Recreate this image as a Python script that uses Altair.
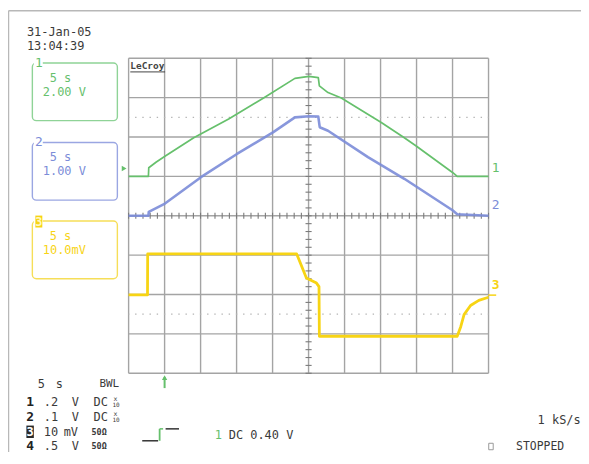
import altair as alt
import pandas as pd
import numpy as np

# ---------------- data (x in divisions of 5 s, y in divisions from bottom of the grid)
ch1_t = [0.0, 0.55, 0.56, 0.76, 1.01, 1.81, 2.78, 3.75, 4.62, 5.01, 5.27, 5.30, 5.54, 5.91, 7.02, 7.66, 7.98, 9.00, 9.13, 10.0]
ch1_v = [5.0, 5.0, 5.22, 5.36, 5.51, 5.98, 6.46, 6.99, 7.49, 7.54, 7.51, 7.30, 7.13, 6.99, 6.37, 5.98, 5.78, 5.10, 5.0, 5.0]
ch2_t = [0.0, 0.55, 0.56, 1.01, 2.01, 3.01, 4.01, 4.62, 5.01, 5.27, 5.31, 5.54, 6.65, 7.66, 9.00, 9.13, 10.0]
ch2_v = [4.0, 4.0, 4.10, 4.31, 4.98, 5.57, 6.12, 6.50, 6.53, 6.52, 6.25, 6.16, 5.49, 4.94, 4.14, 4.04, 4.0]
ch3_t = [0.0, 0.525, 0.53, 4.67, 4.94, 5.22, 5.29, 5.30, 9.13, 9.23, 9.32, 9.50, 9.73, 10.0]
ch3_v = [1.99, 1.99, 3.03, 3.03, 2.42, 2.29, 2.20, 0.94, 0.94, 1.19, 1.49, 1.72, 1.85, 1.93]

grid_x = list(range(0, 11))
grid_y = list(range(0, 9))
dotted_y = [6.5, 1.5]
trig_level = 5.2
trig_pos = 1.0

GREEN = "#66c06c"
BLUE = "#7b8cd8"
YELLOW = "#f7d414"
GRID = "#a4a4a4"
TXT = "#3a3a3a"

# ---------------- layout
W, H = 362, 316.8
OX, OY = 129.3, 57.3          # page position of plot origin
PADL, PADT = OX - 8, OY - 8
FONT = "DejaVu Sans Mono"

xs = alt.Scale(domain=[0, 10], nice=False, zero=False)
ys = alt.Scale(domain=[0, 8], nice=False, zero=False)


def X(v):
    return alt.value(v - OX)


def Y(v):
    return alt.value(v - OY)


one = alt.Data(values=[{}])


def label(s, x, y, color=TXT, size=12, weight="normal", align="left", font=FONT):
    return alt.Chart(one).mark_text(
        text=s, align=align, baseline="middle", font=font, fontSize=size,
        fontWeight=weight, color=color
    ).encode(x=X(x), y=Y(y))


def box(x1, y1, x2, y2, stroke=None, fill=None, sw=1.2, r=0):
    kw = dict(strokeWidth=sw, cornerRadius=r)
    if stroke:
        kw["stroke"] = stroke
    if fill:
        kw["fill"] = fill
    else:
        kw["fillOpacity"] = 0
    return alt.Chart(one).mark_rect(**kw).encode(x=X(x1), x2=X(x2), y=Y(y1), y2=Y(y2))


def seg(x1, y1, x2, y2, color, sw=1.2):
    return alt.Chart(one).mark_rule(color=color, strokeWidth=sw).encode(
        x=X(x1), x2=X(x2), y=Y(y1), y2=Y(y2))


layers = []

# outer frame
layers.append(seg(8.5, 9.5, 600, 9.5, "#b8b8b8", 1.5))
layers.append(seg(8.5, 9.5, 8.5, 470, "#b8b8b8", 1.5))

# grid
gx = pd.DataFrame({"d": grid_x})
gy = pd.DataFrame({"v": grid_y})
layers.append(alt.Chart(gx).mark_rule(color=GRID, strokeWidth=1.4).encode(
    x=alt.X("d:Q", scale=xs, axis=None), y=alt.value(0), y2=alt.value(H)))
layers.append(alt.Chart(gy).mark_rule(color=GRID, strokeWidth=1.4).encode(
    y=alt.Y("v:Q", scale=ys, axis=None), x=alt.value(0), x2=alt.value(W)))
layers.append(alt.Chart(pd.DataFrame({"v": dotted_y})).mark_rule(
    color="#b4b4b4", strokeWidth=1.3, strokeDash=[1.4, 5.84], strokeDashOffset=0.7).encode(
    y=alt.Y("v:Q", scale=ys, axis=None), x=alt.value(0), x2=alt.value(W)))

# minor ticks on centre lines
hx = np.round(np.arange(0, 10.001, 0.2), 2)
layers.append(alt.Chart(pd.DataFrame({"d": hx, "a": 4 - 0.075, "b": 4 + 0.075})).mark_rule(
    color="#7a7a7a", strokeWidth=1.1).encode(
    x=alt.X("d:Q", scale=xs, axis=None), y=alt.Y("a:Q", scale=ys, axis=None), y2="b:Q"))
vy = np.round(np.arange(0, 8.001, 0.2), 2)
layers.append(alt.Chart(pd.DataFrame({"v": vy, "a": 5 - 0.085, "b": 5 + 0.085})).mark_rule(
    color="#7a7a7a", strokeWidth=1.1).encode(
    y=alt.Y("v:Q", scale=ys, axis=None), x=alt.X("a:Q", scale=xs, axis=None), x2="b:Q"))


def trace(t, v, color, sw, op=1.0):
    df = pd.DataFrame({"t": t, "v": v, "i": range(len(t))})
    return alt.Chart(df).mark_line(color=color, strokeWidth=sw, strokeJoin="round",
                                   opacity=op).encode(
        x=alt.X("t:Q", scale=xs, axis=None), y=alt.Y("v:Q", scale=ys, axis=None),
        order="i:Q")


layers.append(trace(ch3_t, ch3_v, YELLOW, 2.8))
layers.append(trace(ch2_t, ch2_v, BLUE, 2.6, 0.9))
layers.append(trace(ch1_t, ch1_v, GREEN, 1.7))

# trigger level marker (left) and trigger position arrow (bottom)
layers.append(alt.Chart(pd.DataFrame({"v": [trig_level]})).mark_point(
    shape="triangle-right", filled=True, color=GREEN, size=30, opacity=1).encode(
    x=alt.value(-4.5), y=alt.Y("v:Q", scale=ys, axis=None)))
layers.append(alt.Chart(pd.DataFrame({"d": [trig_pos]})).mark_rule(
    color=GREEN, strokeWidth=2).encode(
    x=alt.X("d:Q", scale=xs, axis=None), y=Y(378), y2=Y(389)))
layers.append(alt.Chart(pd.DataFrame({"d": [trig_pos]})).mark_point(
    shape="triangle-up", filled=True, color=GREEN, size=28, opacity=1).encode(
    x=alt.X("d:Q", scale=xs, axis=None), y=Y(378.5)))

# channel labels at right of grid
layers.append(label("1", 494.5, 168, GREEN, 13))
layers.append(label("2", 494.5, 205, BLUE, 13))
layers.append(label("3", 494.5, 285, YELLOW, 13, "bold"))
layers.append(seg(491, 295.5, 499, 295.5, YELLOW, 1.5))

# LeCroy logo
layers.append(label("LeCroy", 131, 65.5, "#444444", 9.5, "bold"))
layers.append(seg(131, 71, 166, 71, "#444444", 1))

# date / time
layers.append(label("31-Jan-05", 27, 31, TXT, 12))
layers.append(label("13:04:39", 27, 45, TXT, 12))

# channel boxes
specs = [(62, GREEN, "#8fd397", "1", "5 s", "2.00 V"),
         (142, BLUE, "#9aa6e2", "2", "5 s", "1.00 V"),
         (221, YELLOW, "#f6de58", "3", "5 s", "10.0mV")]
for top, col, bcol, num, l1, l2 in specs:
    layers.append(box(32.5, top, 118, top + 58, stroke=bcol, sw=1.4, r=4))
    layers.append(box(34, top - 6, 43, top + 6, fill="white", sw=0))
    if num == "3":
        layers.append(box(35.5, top - 5.5, 42.5, top + 6.5, fill=YELLOW, sw=0))
        layers.append(label(num, 39, top + 0.5, "#fff7c0", 12, "bold", align="center"))
    else:
        layers.append(label(num, 39, top, col, 13, align="center"))
    layers.append(label(l1, 50, top + 15, col, 12))
    layers.append(label(l2, 43, top + 29, col, 12))

# bottom status block
layers.append(label("5", 38, 385, TXT, 12))
layers.append(label("s", 56, 385, TXT, 12))
layers.append(label("BWL", 100, 385, TXT, 11))
rows = [("1", ".2", "V", "DC", True), ("2", ".1", "V", "DC", True),
        ("3", "10", "mV", "50Ω", False), ("4", ".5", "V", "50Ω", False)]
for k, (n, a, u, c, x10) in enumerate(rows):
    yy = 403.5 + k * 14.6
    if n == "3":
        layers.append(box(26.5, yy - 6, 34, yy + 6.5, fill="#2a2a2a", sw=0))
        layers.append(label(n, 30.3, yy + 0.3, "white", 12, "bold", align="center"))
    else:
        layers.append(label(n, 30.3, yy, "#222222", 13, "bold", align="center"))
    layers.append(label(a, 44, yy, TXT, 12))
    layers.append(label(u, 72 if u == "V" else 64, yy, TXT, 12))
    if c == "DC":
        layers.append(label(c, 94, yy, TXT, 12))
        layers.append(label("x", 114, yy - 3.5, TXT, 6.5))
        layers.append(label("10", 113, yy + 3, TXT, 6))
    else:
        layers.append(label(c, 92, yy, TXT, 8.5, "bold"))

# trigger symbol
layers.append(seg(143, 442, 159, 442, "#333333", 1.5))
layers.append(seg(160.5, 430, 160.5, 442, GREEN, 1.8))
layers.append(seg(160.5, 430, 164, 430, GREEN, 1.5))
layers.append(seg(166.5, 430, 180, 430, "#333333", 1.5))
layers.append(label("1", 216, 436.5, GREEN, 12))
layers.append(label("DC 0.40 V", 230, 436.5, TXT, 12))

# right bottom
layers.append(label("1 kS/s", 584, 421.5, TXT, 12, align="right"))
layers.append(box(491.5, 444.5, 496, 451, stroke="#999999", sw=1))
layers.append(label("STOPPED", 519, 448.5, TXT, 11.5))

chart = alt.layer(*layers).properties(
    width=W, height=H,
    padding={"left": PADL, "top": PADT, "right": 93, "bottom": 444 - PADT - H},
    autosize=alt.AutoSizeParams(type="none"),
    background="white",
).configure_view(strokeWidth=0)

chart.save("out.html", embed_options={"renderer": "svg", "actions": False})
